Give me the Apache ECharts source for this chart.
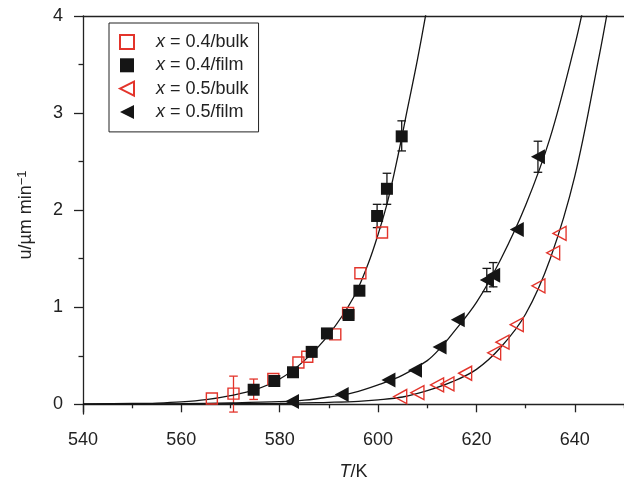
<!DOCTYPE html>
<html>
<head>
<meta charset="utf-8">
<script src="https://cdn.jsdelivr.net/npm/echarts@6/dist/echarts.min.js"></script>
<style>
  html, body { margin: 0; padding: 0; background: #fff; }
  #chart { width: 624px; height: 481px; }
</style>
</head>
<body>
<div id="chart"></div>
<script>
// axis ticks
const xTickValues = [540, 560, 580, 600, 620, 640];
const xMinorTicks = [550, 570, 590, 610, 630, 650];
const yTickValues = [0, 1, 2, 3, 4];
const yMinorTicks = [0.5, 1.5, 2.5, 3.5];

// measured points [T/K, u]
const bulk04 = [[566.2, 0.06], [570.6, 0.11], [578.7, 0.26], [583.8, 0.43], [585.6, 0.49],
  [591.3, 0.72], [593.9, 0.94], [596.4, 1.35], [600.8, 1.77]];
const film04 = [[574.7, 0.15], [578.9, 0.24], [582.7, 0.33], [586.5, 0.54], [589.6, 0.73],
  [594.0, 0.92], [596.2, 1.17], [599.8, 1.94], [601.8, 2.22], [604.8, 2.76]];
const bulk05 = [[604.5, 0.08], [608.0, 0.12], [612.0, 0.20], [614.1, 0.21], [617.7, 0.32],
  [623.6, 0.53], [625.3, 0.64], [628.2, 0.82], [632.6, 1.22], [635.6, 1.56], [636.9, 1.76]];
const film05 = [[582.5, 0.03], [592.6, 0.10], [602.1, 0.25], [607.5, 0.35], [612.5, 0.59],
  [616.2, 0.87], [622.1, 1.28], [623.4, 1.33], [628.2, 1.80], [632.5, 2.55]];

// error bars [T, low, high]
const errRed = [[570.6, -0.08, 0.29], [574.7, 0.05, 0.26]];
const errBlack = [[594.0, 0.87, 0.97], [599.8, 1.82, 2.06], [601.8, 2.06, 2.38], [604.8, 2.61, 2.92],
  [622.1, 1.16, 1.40], [623.4, 1.21, 1.46], [632.5, 2.39, 2.71]];

// fitted curves
const fit04 = [[540, 0.003], [550, 0.008], [555, 0.013], [560, 0.025], [565, 0.048], [570, 0.09],
  [575, 0.15], [580, 0.26], [585, 0.45], [590, 0.72], [595, 1.1], [598, 1.45], [600, 1.75],
  [602, 2.1], [604, 2.55], [606, 3.05], [608, 3.55], [610, 4.1]];
const fit05film = [[540, 0.0], [560, 0.006], [570, 0.014], [580, 0.027], [585, 0.042], [590, 0.075],
  [595, 0.12], [600, 0.2], [605, 0.3], [610, 0.45], [612.5, 0.57], [615, 0.72], [620, 1.05],
  [625, 1.5], [630, 2.05], [635, 2.75], [640, 3.7], [642, 4.15]];
const fit05bulk = [[540, 0.0], [580, 0.008], [590, 0.02], [596, 0.03], [600, 0.045], [605, 0.075],
  [610, 0.14], [615, 0.23], [620, 0.36], [625, 0.59], [630, 0.93], [635, 1.5], [640, 2.35],
  [645, 3.6], [647, 4.15]];

const RED = '#e3342b';
const INK = '#151515';
const FONT = 'Liberation Sans, Arial, sans-serif';
const LEFT_TRI = 'path://M0,5L10,0L10,10Z';

const chart = echarts.init(document.getElementById('chart'));

function errorBars(data, color) {
  return {
    type: 'custom',
    z: 1,
    silent: true,
    data: data,
    renderItem: function (params, api) {
      const lo = api.coord([api.value(0), api.value(1)]);
      const hi = api.coord([api.value(0), api.value(2)]);
      const w = 4.3;
      const st = { stroke: color, lineWidth: 1.3, fill: null };
      return {
        type: 'group',
        children: [
          { type: 'line', shape: { x1: lo[0], y1: lo[1], x2: hi[0], y2: hi[1] }, style: st },
          { type: 'line', shape: { x1: lo[0] - w, y1: lo[1], x2: lo[0] + w, y2: lo[1] }, style: st },
          { type: 'line', shape: { x1: hi[0] - w, y1: hi[1], x2: hi[0] + w, y2: hi[1] }, style: st }
        ]
      };
    }
  };
}

function fitLine(data) {
  return {
    type: 'line',
    data: data,
    smooth: 0.35,
    showSymbol: false,
    silent: true,
    z: 2,
    lineStyle: { color: INK, width: 1.3 }
  };
}

const option = {
  animation: false,
  grid: { left: 83, right: 0, top: 16, bottom: 67, outerBoundsMode: 'none' },
  legend: {
    orient: 'vertical',
    left: 109,
    top: 23,
    padding: [10, 10, 11, 10],
    borderColor: '#222',
    borderWidth: 1,
    itemWidth: 14,
    itemHeight: 14,
    itemGap: 5.3,
    data: [
      { name: 'x = 0.4/bulk', icon: 'rect' },
      { name: 'x = 0.4/film', icon: 'rect' },
      { name: 'x = 0.5/bulk', icon: LEFT_TRI },
      { name: 'x = 0.5/film', icon: LEFT_TRI }
    ],
    formatter: function (name) {
      return '{i|x}' + name.slice(1);
    },
    textStyle: {
      fontFamily: FONT,
      fontSize: 18,
      color: '#222',
      lineHeight: 14,
      padding: [0, 0, 0, 17],
      rich: {
        i: { fontFamily: FONT, fontSize: 18, fontStyle: 'italic', color: '#222', lineHeight: 14 }
      }
    }
  },
  xAxis: [{
    type: 'value',
    min: 540,
    max: 650,
    name: '{i|T}/K',
    nameLocation: 'middle',
    nameGap: 49,
    nameTextStyle: {
      fontFamily: FONT, fontSize: 18, color: '#222',
      rich: { i: { fontFamily: FONT, fontSize: 18, fontStyle: 'italic', color: '#222' } }
    },
    axisLine: { lineStyle: { color: '#222', width: 1.3 } },
    axisTick: { inside: false, length: 8, customValues: xTickValues, lineStyle: { color: '#222', width: 1.3 } },
    axisLabel: { customValues: xTickValues, margin: 17, fontFamily: FONT, fontSize: 18, color: '#222' },
    splitLine: { show: false }
  }, {
    type: 'value',
    min: 540,
    max: 650,
    position: 'bottom',
    axisLine: { show: false },
    axisTick: { length: 4, customValues: xMinorTicks, lineStyle: { color: '#222', width: 1.3 } },
    axisLabel: { show: false },
    splitLine: { show: false }
  }, {
    type: 'value',
    min: 540,
    max: 650,
    position: 'top',
    axisLine: { lineStyle: { color: '#222', width: 1.3 } },
    axisTick: { show: false },
    axisLabel: { show: false },
    splitLine: { show: false }
  }],
  yAxis: [{
    type: 'value',
    min: -0.1,
    max: 4,
    name: 'u/µm min{s|−1}',
    nameLocation: 'middle',
    nameGap: 46,
    nameRotate: 90,
    nameTextStyle: {
      fontFamily: FONT, fontSize: 18, color: '#222',
      rich: { s: { fontFamily: FONT, fontSize: 13, color: '#222', verticalAlign: 'top', padding: [0, 0, 8, 0] } }
    },
    axisLine: { lineStyle: { color: '#222', width: 1.3 } },
    axisTick: { length: 9, customValues: yTickValues, lineStyle: { color: '#222', width: 1.3 } },
    axisLabel: { customValues: yTickValues, margin: 20, fontFamily: FONT, fontSize: 18, color: '#222' },
    splitLine: { show: false }
  }, {
    type: 'value',
    min: -0.1,
    max: 4,
    position: 'left',
    axisLine: { show: false },
    axisTick: { length: 4.5, customValues: yMinorTicks, lineStyle: { color: '#222', width: 1.3 } },
    axisLabel: { show: false },
    splitLine: { show: false }
  }],
  series: [
    fitLine(fit04),
    fitLine(fit05film),
    fitLine(fit05bulk),
    errorBars(errRed, RED),
    errorBars(errBlack, INK),
    {
      name: 'x = 0.4/bulk',
      type: 'scatter',
      data: bulk04,
      symbol: 'rect',
      symbolSize: 11,
      z: 3,
      itemStyle: { color: 'rgba(0,0,0,0)', borderColor: RED, borderWidth: 1.4, opacity: 1 }
    },
    {
      name: 'x = 0.4/film',
      type: 'scatter',
      data: film04,
      symbol: 'rect',
      symbolSize: 12,
      z: 4,
      itemStyle: { color: INK, opacity: 1 }
    },
    {
      name: 'x = 0.5/bulk',
      type: 'scatter',
      data: bulk05,
      symbol: LEFT_TRI,
      symbolSize: [13, 14],
      z: 3,
      itemStyle: { color: 'rgba(0,0,0,0)', borderColor: RED, borderWidth: 1.4, opacity: 1 }
    },
    {
      name: 'x = 0.5/film',
      type: 'scatter',
      data: film05,
      symbol: LEFT_TRI,
      symbolSize: [14, 15],
      z: 4,
      itemStyle: { color: INK, opacity: 1 }
    }
  ]
};

chart.setOption(option);
</script>
</body>
</html>
